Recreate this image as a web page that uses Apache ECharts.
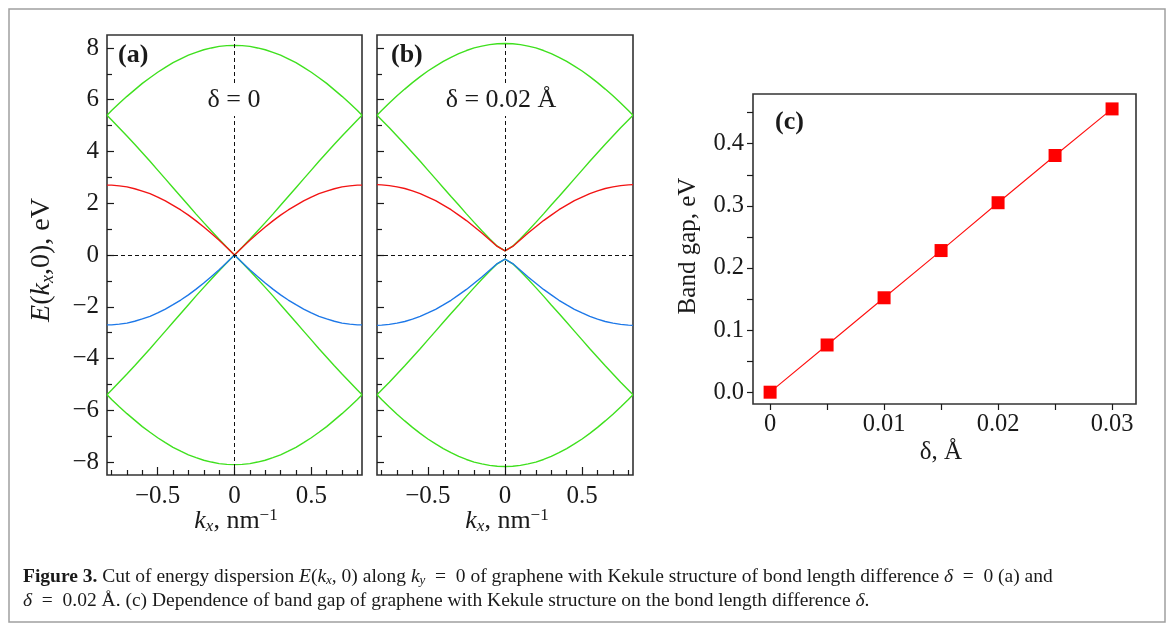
<!DOCTYPE html>
<html><head><meta charset="utf-8">
<script src="https://cdn.jsdelivr.net/npm/echarts@6/dist/echarts.min.js"></script>
<style>html,body{margin:0;padding:0;background:#fff}#c{width:1171px;height:632px}</style>
</head><body><div id="c"></div>
<script>
// ---- data ----
const kx = [-0.83,-0.80,-0.75,-0.70,-0.65,-0.60,-0.55,-0.50,-0.45,-0.40,-0.35,-0.30,-0.25,-0.20,-0.15,-0.10,-0.05,0,0.05,0.10,0.15,0.20,0.25,0.30,0.35,0.40,0.45,0.50,0.55,0.60,0.65,0.70,0.75,0.80,0.83];
// panel (a), delta = 0 : upper bands (lower bands are their mirror images)
const aTop  = [5.40,5.58,5.86,6.13,6.38,6.63,6.85,7.06,7.25,7.43,7.58,7.72,7.83,7.93,8.00,8.06,8.09,8.10,8.09,8.06,8.00,7.93,7.83,7.72,7.58,7.43,7.25,7.06,6.85,6.63,6.38,6.13,5.86,5.58,5.40];
const aCone = [5.40,5.22,4.91,4.60,4.28,3.95,3.62,3.28,2.94,2.60,2.26,1.92,1.58,1.25,0.93,0.61,0.30,0.00,0.30,0.61,0.93,1.25,1.58,1.92,2.26,2.60,2.94,3.28,3.62,3.95,4.28,4.60,4.91,5.22,5.40];
const aRed  = [2.70,2.70,2.67,2.63,2.56,2.47,2.37,2.24,2.09,1.92,1.74,1.54,1.32,1.08,0.83,0.57,0.29,0.00,0.29,0.57,0.83,1.08,1.32,1.54,1.74,1.92,2.09,2.24,2.37,2.47,2.56,2.63,2.67,2.70,2.70];
// panel (b), delta = 0.02 A
const bTop  = [5.40,5.58,5.87,6.15,6.41,6.66,6.89,7.11,7.30,7.48,7.64,7.78,7.90,8.00,8.07,8.13,8.16,8.17,8.16,8.13,8.07,8.00,7.90,7.78,7.64,7.48,7.30,7.11,6.89,6.66,6.41,6.15,5.87,5.58,5.40];
const bCone = [5.40,5.22,4.92,4.60,4.28,3.95,3.62,3.28,2.94,2.60,2.26,1.93,1.59,1.26,0.94,0.63,0.34,0.16,0.34,0.63,0.94,1.26,1.59,1.93,2.26,2.60,2.94,3.28,3.62,3.95,4.28,4.60,4.92,5.22,5.40];
const bRed  = [2.72,2.71,2.68,2.63,2.57,2.48,2.37,2.24,2.10,1.93,1.75,1.54,1.33,1.09,0.85,0.59,0.33,0.16,0.33,0.59,0.85,1.09,1.33,1.54,1.75,1.93,2.10,2.24,2.37,2.48,2.57,2.63,2.68,2.71,2.72];
// panel (c)
const gapDelta  = [0, 0.005, 0.010, 0.015, 0.020, 0.025, 0.030];
const gapValues = [0, 0.076, 0.152, 0.228, 0.305, 0.381, 0.456];
// ticks
const kMajor = [-0.5, 0, 0.5];
const kMinor = [-0.8,-0.7,-0.6,-0.4,-0.3,-0.2,-0.1,0.1,0.2,0.3,0.4,0.6,0.7,0.8];
const eMajor = [-8,-6,-4,-2,0,2,4,6,8];
const eMinor = [-7,-5,-3,-1,1,3,5,7];
const dMajor = [0, 0.01, 0.02, 0.03];
const dMinor = [0.005, 0.015, 0.025];
const gMajor = [0, 0.1, 0.2, 0.3, 0.4];
const gMinor = [0.05, 0.15, 0.25, 0.35, 0.45];

const SERIF = '"Liberation Serif","DejaVu Serif",serif';
const INK = '#1a1a1a';
const GREEN = '#3fe01e', RED = '#f21414', BLUE = '#1d78e8';

const fmtSigned = v => (v < 0 ? '\u2212' : '') + String(Math.abs(v));

function axes(gi, pos, min, max, major, minor, opt) {
  const base = {type:'value', gridIndex:gi, position:pos, offset:0, min:min, max:max, splitLine:{show:false},
    axisLine:{show:false, onZero:false}};
  const maj = Object.assign({}, base, {
    axisTick:{show:true, inside:opt.inside, length:opt.majLen, customValues:major, lineStyle:{color:INK,width:1.2}},
    axisLabel:{show:opt.labels, customValues:major, formatter:opt.fmt, fontFamily:SERIF, fontSize:opt.fs, color:INK, margin:opt.margin}
  });
  const mn = Object.assign({}, base, {
    axisTick:{show:true, inside:opt.inside, length:opt.minLen, customValues:minor, lineStyle:{color:INK,width:1.2}},
    axisLabel:{show:false}
  });
  return [maj, mn];
}

const xAxes = [].concat(
  axes(0, 'bottom', -0.83, 0.83, kMajor, kMinor, {inside:true, majLen:8, minLen:5, labels:true, fmt:fmtSigned, fs:25, margin:9}),
  axes(1, 'bottom', -0.83, 0.83, kMajor, kMinor, {inside:true, majLen:8, minLen:5, labels:true, fmt:fmtSigned, fs:25, margin:9}),
  axes(2, 'bottom', -0.0015, 0.0321, dMajor, dMinor, {inside:false, majLen:6, minLen:6, labels:true, fmt:v => v === 0 ? '0' : v.toFixed(2), fs:24.5, margin:8})
);
const yAxes = [].concat(
  axes(0, 'left', -8.5, 8.5, eMajor, eMinor, {inside:true, majLen:7, minLen:5, labels:true, fmt:fmtSigned, fs:25, margin:8}),
  axes(1, 'left', -8.5, 8.5, eMajor, eMinor, {inside:true, majLen:7, minLen:5, labels:false, fmt:fmtSigned, fs:25, margin:8}),
  axes(2, 'left', -0.019, 0.48, gMajor, gMinor, {inside:false, majLen:6, minLen:6, labels:true, fmt:v => v.toFixed(1), fs:24.5, margin:9})
);

const zeroLines = {silent:true, symbol:['none','none'], animation:false, label:{show:false},
  lineStyle:{type:[4,3], color:'#111', width:1}, data:[{xAxis:0},{yAxis:0}]};

function bandSeries(ai, top, cone, red) {
  const mk = (vals, sign, color, extra) => Object.assign({
    type:'line', xAxisIndex:ai, yAxisIndex:ai, showSymbol:false, symbol:'none', animation:false,
    lineStyle:{color:color, width:1.4}, data:kx.map((x,i) => [x, sign*vals[i]])}, extra || {});
  return [
    mk(top, 1, GREEN, {markLine: zeroLines}),
    mk(cone, 1, GREEN), mk(top, -1, GREEN), mk(cone, -1, GREEN),
    mk(red, 1, RED), mk(red, -1, BLUE)
  ];
}

const series = [].concat(
  bandSeries(0, aTop, aCone, aRed),
  bandSeries(2, bTop, bCone, bRed),
  [{type:'line', xAxisIndex:4, yAxisIndex:4, animation:false, symbol:'rect', symbolSize:13,
    itemStyle:{color:'#ff0000'}, lineStyle:{color:'#ff1010', width:1.1},
    data:gapDelta.map((d,i) => [d, gapValues[i]])}]
);

const gridStyle = {show:true, borderColor:'#333', borderWidth:1.6, backgroundColor:'transparent', containLabel:false};

const richMath = {
  i:{fontStyle:'italic', fontFamily:SERIF, fontSize:26, color:INK},
  s:{fontStyle:'italic', fontFamily:SERIF, fontSize:17, color:INK, verticalAlign:'bottom', padding:[11,0,0,0]},
  p:{fontFamily:SERIF, fontSize:17, color:INK, padding:[0,0,11,0]}
};
const richMathY = {
  i:{fontStyle:'italic', fontFamily:SERIF, fontSize:28, color:INK},
  s:{fontStyle:'italic', fontFamily:SERIF, fontSize:18, color:INK, verticalAlign:'bottom', padding:[12,0,0,0]}
};
const richCap = {
  b:{fontWeight:'bold', fontFamily:SERIF, fontSize:19.5, color:INK},
  i:{fontStyle:'italic', fontFamily:SERIF, fontSize:19.5, color:INK},
  s:{fontStyle:'italic', fontFamily:SERIF, fontSize:13, color:INK, padding:[8,0,0,0]}
};

function txt(x, y, text, style, extra) {
  return Object.assign({type:'text', x:x, y:y, z:50, silent:true,
    style:Object.assign({text:text, fontFamily:SERIF, fill:INK, align:'center', verticalAlign:'middle'}, style)}, extra || {});
}

const graphics = [
  {type:'rect', z:0, silent:true, shape:{x:9, y:9, width:1156, height:613}, style:{fill:'none', stroke:'#a0a0a0', lineWidth:1.5}},
  txt(118, 55, '(a)', {fontSize:26, fontWeight:'bold', align:'left'}),
  txt(391, 55, '(b)', {fontSize:26, fontWeight:'bold', align:'left'}),
  txt(775, 122, '(c)', {fontSize:26, fontWeight:'bold', align:'left'}),
  txt(234, 100, '\u03b4 = 0', {fontSize:26, backgroundColor:'#fff', padding:[3,4]}),
  txt(501, 100, '\u03b4 = 0.02 \u00c5', {fontSize:26, backgroundColor:'#fff', padding:[3,4]}),
  txt(42, 260, '{i|E}({i|k}{s|x},0), eV', {fontSize:28, rich:richMathY}, {rotation:Math.PI/2}),
  txt(236, 521, '{i|k}{s|x}, nm{p|\u22121}', {fontSize:26, rich:richMath}),
  txt(507, 521, '{i|k}{s|x}, nm{p|\u22121}', {fontSize:26, rich:richMath}),
  txt(688, 246, 'Band gap, eV', {fontSize:25}, {rotation:Math.PI/2}),
  txt(941, 452, '\u03b4, \u00c5', {fontSize:25}),
  txt(23, 577, '{b|Figure 3.} Cut of energy dispersion {i|E}({i|k}{s|x}, 0) along {i|k}{s|y}  =  0 of graphene with Kekule structure of bond length difference {i|\u03b4}  =  0 (a) and',
      {fontSize:19.5, align:'left', rich:richCap}),
  txt(23, 601, '{i|\u03b4}  =  0.02 \u00c5. (c) Dependence of band gap of graphene with Kekule structure on the bond length difference {i|\u03b4}.',
      {fontSize:19.5, align:'left', rich:richCap})
];

const chart = echarts.init(document.getElementById('c'), null, {renderer:'canvas'});
chart.setOption({
  animation:false,
  backgroundColor:'#fff',
  grid:[
    Object.assign({left:107, top:35, width:255, height:440}, gridStyle),
    Object.assign({left:377, top:35, width:256, height:440}, gridStyle),
    Object.assign({left:753, top:94, width:383, height:310}, gridStyle)
  ],
  xAxis: xAxes,
  yAxis: yAxes,
  series: series,
  graphic: graphics
});
</script></body></html>
